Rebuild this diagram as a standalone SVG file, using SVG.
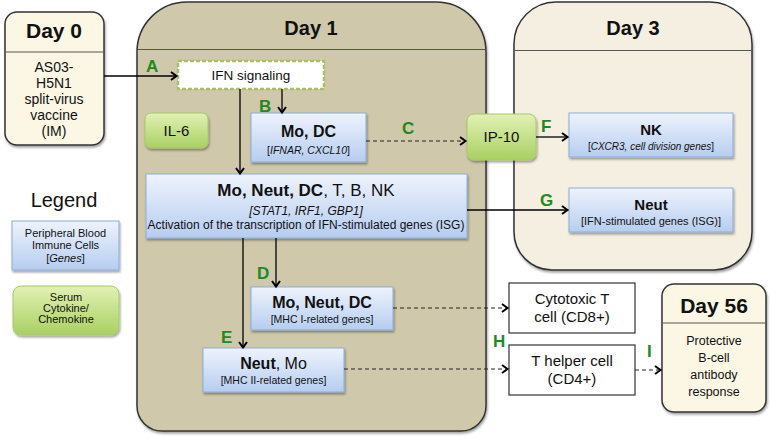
<svg xmlns="http://www.w3.org/2000/svg" width="770" height="438" viewBox="0 0 770 438">
<defs>
<linearGradient id="gBlue" x1="0" y1="0" x2="0" y2="1">
<stop offset="0" stop-color="#eef3fc"/><stop offset="1" stop-color="#b6cdf0"/>
</linearGradient>
<linearGradient id="gGreen" x1="0" y1="0" x2="0" y2="1">
<stop offset="0" stop-color="#e2f1b4"/><stop offset="1" stop-color="#a9d062"/>
</linearGradient>
<filter id="sh" x="-10%" y="-10%" width="125%" height="135%">
<feDropShadow dx="1" dy="2" stdDeviation="1.3" flood-color="#000" flood-opacity="0.35"/>
</filter>
<marker id="arr" markerWidth="10" markerHeight="10" refX="7" refY="5" orient="auto" markerUnits="userSpaceOnUse">
<path d="M2,1 L7.5,5 L2,9" fill="none" stroke="#000" stroke-width="2"/>
</marker>
<style>
text{font-family:"Liberation Sans",Arial,sans-serif;fill:#111;}
.panel{stroke:#333;stroke-width:1.5;}
.sep{stroke:#555;stroke-width:1;}
.title{font-size:20px;font-weight:bold;text-anchor:middle;}
.body{font-size:14px;text-anchor:middle;}
.blue{fill:url(#gBlue);stroke:#8cadd6;stroke-width:1;filter:url(#sh);}
.green{fill:url(#gGreen);stroke:#a8c86c;stroke-width:1;filter:url(#sh);}
.white{fill:#fff;stroke:#333;stroke-width:1.2;}
.h{font-size:15px;font-weight:bold;text-anchor:middle;}
.g{font-size:10.5px;text-anchor:middle;}
.lbl{font-size:17px;font-weight:bold;fill:#1f8a1f;}
.ln{stroke:#000;stroke-width:1.3;fill:none;}
.dash{stroke:#222;stroke-width:1;stroke-dasharray:4,3;fill:none;}
</style>
</defs>
<rect width="770" height="438" fill="#fff"/>

<g id="day1">
<path class="panel" fill="#d0c8aa" filter="url(#sh)" d="M187,2 H436 A50,50 0 0 1 486,52 V406 A25,25 0 0 1 461,431 H162 A25,25 0 0 1 137,406 V52 A50,50 0 0 1 187,2 Z"/>
<line class="sep" x1="137.5" y1="49.5" x2="485.5" y2="49.5"/>
<text class="title" x="311" y="35">Day 1</text>
</g>

<g id="day3">
<path class="panel" fill="#f4efe0" filter="url(#sh)" d="M556,2 H710 A42,42 0 0 1 752,44 V232 A38,38 0 0 1 714,270 H552 A38,38 0 0 1 514,232 V44 A42,42 0 0 1 556,2 Z"/>
<line class="sep" x1="514.5" y1="50.5" x2="751.5" y2="50.5"/>
<text class="title" x="633" y="35">Day 3</text>
</g>

<g id="day0">
<rect class="panel" x="5" y="12" width="99" height="133" rx="12" fill="#fcf6e4" filter="url(#sh)"/>
<line class="sep" x1="5.5" y1="52" x2="103.5" y2="52"/>
<text class="title" x="54" y="38" style="font-size:21px">Day 0</text>
<text class="body" x="54" y="72">AS03-</text>
<text class="body" x="54" y="88">H5N1</text>
<text class="body" x="54" y="104">split-virus</text>
<text class="body" x="54" y="120">vaccine</text>
<text class="body" x="54" y="136">(IM)</text>
</g>

<g id="day56">
<rect class="panel" x="662" y="284" width="104" height="128" rx="12" fill="#fcf6e4" filter="url(#sh)"/>
<line class="sep" x1="662.5" y1="323" x2="765.5" y2="323"/>
<text class="title" x="714" y="313" style="font-size:21px">Day 56</text>
<text x="714" y="345" style="font-size:12.5px;text-anchor:middle">Protective</text>
<text x="714" y="362" style="font-size:12.5px;text-anchor:middle">B-cell</text>
<text x="714" y="379" style="font-size:12.5px;text-anchor:middle">antibody</text>
<text x="714" y="396" style="font-size:12.5px;text-anchor:middle">response</text>
</g>

<g id="ifn">
<rect x="178" y="61" width="146" height="28" fill="#fff" stroke="#a8c06a" stroke-width="2.5" stroke-dasharray="4,2"/>
<text x="251" y="80" style="font-size:13.5px;text-anchor:middle">IFN signaling</text>
</g>

<g id="il6">
<rect class="green" x="145" y="113" width="63" height="35" rx="6"/>
<text x="176.5" y="136" style="font-size:15px;text-anchor:middle">IL-6</text>
</g>

<g id="modc">
<rect class="blue" x="251" y="113" width="115" height="49"/>
<text class="h" x="308.5" y="137" style="font-size:16px">Mo, DC</text>
<text class="g" x="308.5" y="154"><tspan>[</tspan><tspan font-style="italic">IFNAR, CXCL10</tspan><tspan>]</tspan></text>
</g>

<g id="ip10">
<rect class="green" x="467" y="114" width="69" height="46" rx="7"/>
<text x="501.5" y="142" style="font-size:15px;text-anchor:middle">IP-10</text>
</g>

<g id="nk">
<rect class="blue" x="569" y="113" width="164" height="44"/>
<text class="h" x="651" y="135">NK</text>
<text class="g" x="651" y="150" style="font-size:10px"><tspan>[</tspan><tspan font-style="italic">CXCR3, cell division genes</tspan><tspan>]</tspan></text>
</g>

<g id="isg">
<rect class="blue" x="146" y="174" width="321" height="64"/>
<text x="306" y="196" style="font-size:17px;text-anchor:middle"><tspan font-weight="bold">Mo, Neut, DC</tspan>, T, B, NK</text>
<text x="306" y="215" style="font-size:12px;text-anchor:middle"><tspan font-style="italic">[STAT1, IRF1, GBP1]</tspan></text>
<text x="306" y="229" style="font-size:12px;text-anchor:middle">Activation of the transcription of IFN-stimulated genes (ISG)</text>
</g>

<g id="neut3">
<rect class="blue" x="569" y="188" width="164" height="44"/>
<text class="h" x="651" y="210">Neut</text>
<text class="g" x="651" y="225" style="font-size:11px">[IFN-stimulated genes (ISG)]</text>
</g>

<g id="mhc1">
<rect class="blue" x="251" y="287" width="142" height="43"/>
<text class="h" x="322" y="308" style="font-size:16px">Mo, Neut, DC</text>
<text class="g" x="322" y="323">[MHC I-related genes]</text>
</g>

<g id="mhc2">
<rect class="blue" x="203" y="348" width="141" height="44"/>
<text x="273.5" y="369" style="font-size:16px;text-anchor:middle"><tspan font-weight="bold">Neut</tspan>, Mo</text>
<text class="g" x="273.5" y="384">[MHC II-related genes]</text>
</g>

<g id="cd8">
<rect class="white" x="509" y="283" width="126" height="50"/>
<text x="572" y="304" style="font-size:15px;text-anchor:middle">Cytotoxic T</text>
<text x="572" y="322" style="font-size:15px;text-anchor:middle">cell (CD8+)</text>
</g>

<g id="cd4">
<rect class="white" x="509" y="345" width="126" height="50"/>
<text x="572" y="366" style="font-size:15px;text-anchor:middle">T helper cell</text>
<text x="572" y="384" style="font-size:15px;text-anchor:middle">(CD4+)</text>
</g>

<g id="legend">
<text x="64" y="207" style="font-size:20px;text-anchor:middle">Legend</text>
<rect class="blue" x="12" y="221" width="107" height="49"/>
<text x="65.5" y="237" style="font-size:11px;text-anchor:middle">Peripheral Blood</text>
<text x="65.5" y="249" style="font-size:11px;text-anchor:middle">Immune Cells</text>
<text x="65.5" y="262" style="font-size:11px;text-anchor:middle">[<tspan font-style="italic">Genes</tspan>]</text>
<rect class="green" x="13" y="286" width="106" height="49" rx="8"/>
<text x="66" y="301" style="font-size:11px;text-anchor:middle">Serum</text>
<text x="66" y="312" style="font-size:11px;text-anchor:middle">Cytokine/</text>
<text x="66" y="323" style="font-size:11px;text-anchor:middle">Chemokine</text>
</g>

<g id="connectors">
<line class="ln" x1="104" y1="76" x2="176" y2="76" marker-end="url(#arr)"/>
<line class="ln" x1="282" y1="89" x2="282" y2="112" marker-end="url(#arr)"/>
<line class="ln" x1="240" y1="89" x2="240" y2="173" marker-end="url(#arr)"/>
<line class="dash" x1="366" y1="141" x2="465" y2="141" marker-end="url(#arr)"/>
<line class="ln" x1="536" y1="137" x2="567" y2="137" marker-end="url(#arr)"/>
<line class="ln" x1="467" y1="210" x2="567" y2="210" marker-end="url(#arr)"/>
<line class="ln" x1="276" y1="238" x2="276" y2="286" marker-end="url(#arr)"/>
<line class="ln" x1="243" y1="238" x2="243" y2="347" marker-end="url(#arr)"/>
<line class="dash" x1="393" y1="308" x2="507" y2="308" marker-end="url(#arr)"/>
<line class="dash" x1="344" y1="369" x2="507" y2="369" marker-end="url(#arr)"/>
<line class="dash" x1="635" y1="370" x2="660" y2="370" marker-end="url(#arr)"/>
<text class="lbl" x="146" y="72">A</text>
<text class="lbl" x="259" y="112">B</text>
<text class="lbl" x="402" y="134">C</text>
<text class="lbl" x="257" y="279">D</text>
<text class="lbl" x="221" y="343">E</text>
<text class="lbl" x="541" y="132">F</text>
<text class="lbl" x="540" y="206">G</text>
<text class="lbl" x="493" y="347">H</text>
<text class="lbl" x="647" y="357">I</text>
</g>
</svg>
